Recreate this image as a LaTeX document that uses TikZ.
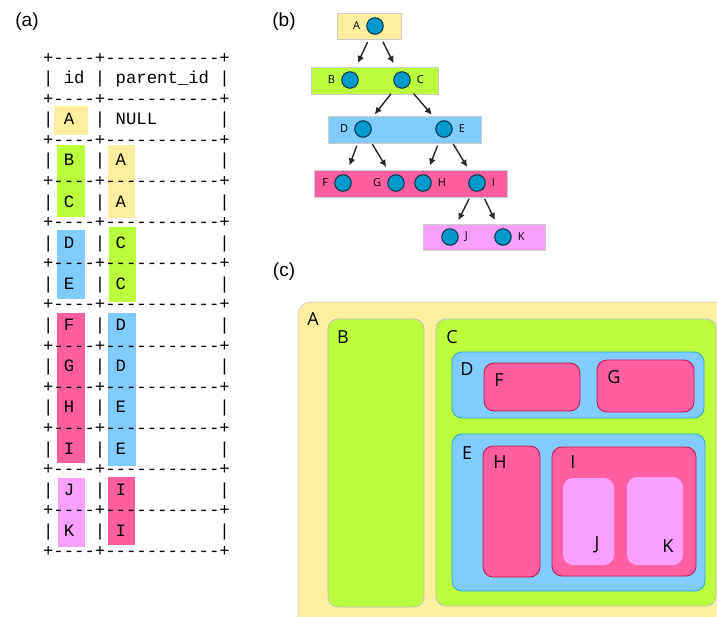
\documentclass[tikz,border=0pt]{standalone}
\usepackage{fontspec}
\setmainfont{Liberation Sans}
\setmonofont{Liberation Mono}
\newfontfamily\setfont{Open Sans}
\usetikzlibrary{positioning, arrows.meta}

\definecolor{setyellow}{HTML}{FFEE9E}
\definecolor{setgreen}{HTML}{BBFF3C}
\definecolor{setblue}{HTML}{80CCFF}
\definecolor{setpink}{HTML}{FF5FA0}
\definecolor{setviolet}{HTML}{F9A0FF}
\definecolor{dotfill}{HTML}{0099CC}
\definecolor{dotline}{HTML}{003344}
\definecolor{blueedge}{HTML}{22AADD}
\definecolor{pinkedge}{HTML}{CC1144}

\begin{document}
\begin{tikzpicture}[x=1pt, y=-1pt, node distance=10mm]
                \tikzstyle{panel} = [inner sep=0pt, font=\fontsize{19}{19}\selectfont]
                \tikzstyle{tline} = [anchor=base west, inner sep=0pt, font=\ttfamily\fontsize{17.3}{20}\selectfont]
                \tikzstyle{level} = [draw=black!20, line width=0.8pt, inner sep=0pt]
                \tikzstyle{dot} = [circle, draw=dotline, fill=dotfill, line width=1pt, minimum size=16.5pt, inner sep=0pt]
                \tikzstyle{lbl} = [inner sep=0pt, font=\setfont\fontsize{11}{11}\selectfont]
                \tikzstyle{edge} = [-{Latex[length=7pt, width=7pt]}, line width=1.4pt, black!85, shorten <=9pt, shorten >=10pt]
                \tikzstyle{set} = [rounded corners=10pt, line width=0.8pt]
                \tikzstyle{setlbl} = [inner sep=0pt, font=\setfont\fontsize{18}{18}\selectfont]

                \useasboundingbox (0,0) rectangle (717,616);

                % Panel titles
                \node[panel] (titleA) at (27,22) {(a)};
                \node[panel] (titleB) at (284,22) {(b)};
                \node[panel] (titleC) at (284,272) {(c)};

                % (a) highlights behind the table
                \fill[setyellow] (54,106) rectangle (88,135);
                \fill[setgreen] (57,145) rectangle (85,217);
                \fill[setblue] (57,230) rectangle (85,299);
                \fill[setpink] (57,313) rectangle (85,463);
                \fill[setviolet] (58,478) rectangle (85,547);
                \fill[setyellow] (108,145) rectangle (135,218);
                \fill[setgreen] (109,227) rectangle (136,302);
                \fill[setblue] (108,313) rectangle (136,466);
                \fill[setpink] (108,477) rectangle (135,545);

                % (a) table text
                \foreach \k in {0,2,...,24}
                    \node[tline] (border\k) at (42.8,63+20.58*\k) {+----+-----------+};
                \node[tline] (rowhead) at (42.8,63+20.58*1) {|~id~|~parent\_id~|};
                \node[tline] (rowA) at (42.8,63+20.58*3) {|~A~~|~NULL~~~~~~|};
                \node[tline] (rowB) at (42.8,63+20.58*5) {|~B~~|~A~~~~~~~~~|};
                \node[tline] (rowC) at (42.8,63+20.58*7) {|~C~~|~A~~~~~~~~~|};
                \node[tline] (rowD) at (42.8,63+20.58*9) {|~D~~|~C~~~~~~~~~|};
                \node[tline] (rowE) at (42.8,63+20.58*11) {|~E~~|~C~~~~~~~~~|};
                \node[tline] (rowF) at (42.8,63+20.58*13) {|~F~~|~D~~~~~~~~~|};
                \node[tline] (rowG) at (42.8,63+20.58*15) {|~G~~|~D~~~~~~~~~|};
                \node[tline] (rowH) at (42.8,63+20.58*17) {|~H~~|~E~~~~~~~~~|};
                \node[tline] (rowI) at (42.8,63+20.58*19) {|~I~~|~E~~~~~~~~~|};
                \node[tline] (rowJ) at (42.8,63+20.58*21) {|~J~~|~I~~~~~~~~~|};
                \node[tline] (rowK) at (42.8,63+20.58*23) {|~K~~|~I~~~~~~~~~|};

                % (b) levels of the tree
                \node[level, fill=setyellow, minimum width=64pt, minimum height=26pt] (lvl1) at (369,26) {};
                \node[level, fill=setgreen, minimum width=127pt, minimum height=27pt] (lvl2) at (374.5,80.5) {};
                \node[level, fill=setblue, minimum width=153pt, minimum height=27pt] (lvl3) at (404.5,129.5) {};
                \node[level, fill=setpink, minimum width=193pt, minimum height=27pt] (lvl4) at (410.5,183.5) {};
                \node[level, fill=setviolet, minimum width=122pt, minimum height=26pt] (lvl5) at (484,237) {};

                % (b) tree nodes
                \node[dot] (dotA) at (375,26) {};
                \node[dot] (dotB) at (350,80) {};
                \node[dot] (dotC) at (402,80) {};
                \node[dot] (dotD) at (363,129) {};
                \node[dot] (dotE) at (444,129) {};
                \node[dot] (dotF) at (343,183) {};
                \node[dot] (dotG) at (396,183) {};
                \node[dot] (dotH) at (423,183) {};
                \node[dot] (dotI) at (477,183) {};
                \node[dot] (dotJ) at (450,237) {};
                \node[dot] (dotK) at (503,237) {};

                \node[lbl, left=6pt of dotA] {A};
                \node[lbl, left=6pt of dotB] {B};
                \node[lbl, right=6pt of dotC] {C};
                \node[lbl, left=6pt of dotD] {D};
                \node[lbl, right=6pt of dotE] {E};
                \node[lbl, left=6pt of dotF] {F};
                \node[lbl, left=6pt of dotG] {G};
                \node[lbl, right=6pt of dotH] {H};
                \node[lbl, right=6pt of dotI] {I};
                \node[lbl, right=6pt of dotJ] {J};
                \node[lbl, right=6pt of dotK] {K};

                % (b) arrows
                \draw[edge] (dotA) -- (dotB);
                \draw[edge] (dotA) -- (dotC);
                \draw[edge] (dotC) -- (dotD);
                \draw[edge] (dotC) -- (dotE);
                \draw[edge] (dotD) -- (dotF);
                \draw[edge] (dotD) -- (dotG);
                \draw[edge] (dotE) -- (dotH);
                \draw[edge] (dotE) -- (dotI);
                \draw[edge] (dotI) -- (dotJ);
                \draw[edge] (dotI) -- (dotK);

                % (c) nested sets
                \draw[set, rounded corners=13pt, fill=setyellow, draw=black!20] (298,302) rectangle (745,645);
                \draw[set, fill=setgreen, draw=black!25] (328,319) rectangle (424,607);
                \draw[set, fill=setgreen, draw=black!25] (436,319) rectangle (716,606);
                \draw[set, fill=setblue, draw=blueedge] (452,352) rectangle (704,418);
                \draw[set, fill=setpink, draw=pinkedge] (484,363) rectangle (580,411);
                \draw[set, fill=setpink, draw=pinkedge] (597,360) rectangle (694,412);
                \draw[set, fill=setblue, draw=blueedge] (452,434) rectangle (705,591);
                \draw[set, fill=setpink, draw=pinkedge] (483,446) rectangle (540,577);
                \draw[set, fill=setpink, draw=pinkedge] (552,447) rectangle (696,576);
                \fill[set, setviolet] (563,478) rectangle (614,565);
                \fill[set, setviolet] (627,477) rectangle (683,565);

                \node[setlbl] (setA) at (313,319) {A};
                \node[setlbl] (setB) at (343,337) {B};
                \node[setlbl] (setC) at (452,337) {C};
                \node[setlbl] (setD) at (467,369) {D};
                \node[setlbl] (setF) at (499,380) {F};
                \node[setlbl] (setG) at (614,377) {G};
                \node[setlbl] (setE) at (467,453) {E};
                \node[setlbl] (setH) at (500,462) {H};
                \node[setlbl] (setI) at (573,462) {I};
                \node[setlbl] (setJ) at (597,545) {J};
                \node[setlbl] (setK) at (668,546) {K};
            \end{tikzpicture}
\end{document}
